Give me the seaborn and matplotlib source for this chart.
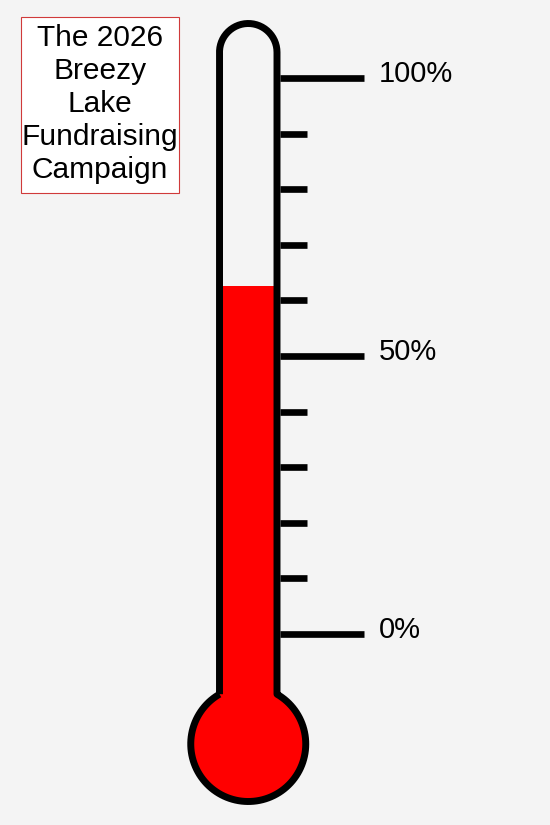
import numpy as np
import matplotlib.pyplot as plt
import matplotlib.transforms as mtransforms
from matplotlib.path import Path
from matplotlib.patches import PathPatch, Rectangle, Circle
import seaborn as sns

# data
title_lines = ["The 2026", "Breezy", "Lake", "Fundraising", "Campaign"]
tick_values = [0, 10, 20, 30, 40, 50, 60, 70, 80, 90, 100]
major_ticks = [0, 50, 100]
major_labels = ["0%", "50%", "100%"]
raised_pct = 62.5

sns.set_style("white")
plt.rcParams['font.family'] = ['Liberation Sans', 'DejaVu Sans']

bg = '#f4f4f4'
red = '#ff0000'

fig = plt.figure(figsize=(5.5, 8.25), dpi=100, facecolor=bg)
ax = fig.add_axes([0, 0, 1, 1])
ax.set_facecolor(bg)
ax.axis('off')

# y axis in percent: 0% sits at pixel row 634, 100% at pixel row 78
px_per_pct = (634 - 78) / 100
ax.set_xlim(0, 550)
ax.set_ylim(-(825 - 634) / px_per_pct, 634 / px_per_pct)

# helper transform so the glass can be drawn in pixel geometry
to_px = mtransforms.Affine2D().scale(1, -1 / px_per_pct).translate(0, 634 / px_per_pct) + ax.transData

# glass outline (centre of the black stroke)
cx = 248.25
left, right = 219.5, 277.0
r_top = (right - left) / 2
top_cy = 23.5 + r_top
bulb_cy, R = 744.0, 57.5
dy = np.sqrt(R ** 2 - r_top ** 2)
y_join = bulb_cy - dy

t = np.linspace(np.pi, 0, 60)
top_arc = np.column_stack([cx + r_top * np.cos(t), top_cy - r_top * np.sin(t)])
a0 = np.degrees(np.arccos(r_top / R))
a = np.radians(np.linspace(a0, -180 - a0, 200))
bulb_arc = np.column_stack([cx + R * np.cos(a), bulb_cy - R * np.sin(a)])
verts = np.vstack([[[left, y_join]], top_arc, [[right, y_join]], bulb_arc])

ax.add_patch(PathPatch(Path(verts), transform=to_px, facecolor=bg, edgecolor='none', zorder=1))

# red fill: bulb plus column up to the raised level
ax.add_patch(Circle((cx, bulb_cy), R, transform=to_px, facecolor=red, edgecolor='none', zorder=2))
bulb_pct = (634 - bulb_cy) / px_per_pct
ax.bar(cx, raised_pct - bulb_pct, bottom=bulb_pct, width=56, color=red, linewidth=0, zorder=2)

ax.add_patch(PathPatch(Path(np.vstack([verts, verts[:1]])), transform=to_px, facecolor='none',
                       edgecolor='black', lw=5, joinstyle='round', capstyle='butt', zorder=3))

# scale ticks
tick_ends = [364 if v in major_ticks else 307 for v in tick_values]
ax.hlines(tick_values, 280, tick_ends, color='black', lw=4.8, zorder=3)
for v, lab in zip(major_ticks, major_labels):
    ax.text(379, v + 0.65, lab, ha='left', va='center', fontsize=21, color='black')

# title box
ax.add_patch(Rectangle((21, 17), 158, 176, transform=to_px, facecolor='white',
                       edgecolor='#d03a3a', lw=0.8, zorder=3))
ax.text(100, 104, "\n".join(title_lines), transform=to_px, ha='center', va='center',
        multialignment='center', fontsize=21.5, linespacing=1.22, color='black', zorder=4)

plt.savefig('out.png', dpi=100, facecolor=bg)
